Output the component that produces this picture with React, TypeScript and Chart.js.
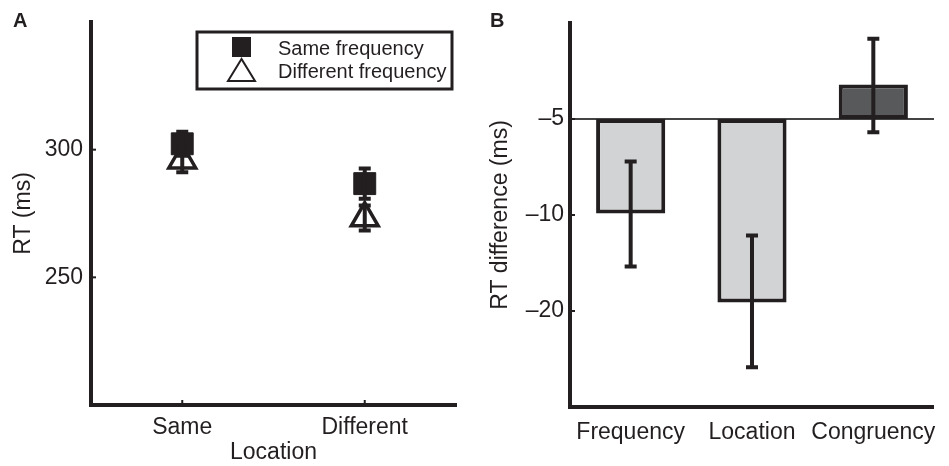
import React, { useEffect, useRef } from 'react';
import { Chart, registerables } from 'chart.js';

Chart.register(...registerables);

// ---------- Panel A data ----------
const LOCATIONS = ['Same', 'Different'];
const LOCATION_X = [1, 2];
const SAME_FREQ_RT = [302.3, 286.7];
const SAME_FREQ_ERR = [4.7, 5.9];
const DIFF_FREQ_RT = [295.9, 273.2];
const DIFF_FREQ_ERR = [4.7, 4.9];
const RT_TICKS = [250, 300];

// ---------- Panel B data ----------
const EFFECTS = ['Frequency', 'Location', 'Congruency'];
const EFFECT_BASELINE = -5;
const EFFECT_RT_DIFF = [-9.9, -18.8, -3.9];
const EFFECT_ERR_UPPER = [-6.8, -11.6, -2.8];
const EFFECT_ERR_LOWER = [-14.5, -30, -5.5];
const DIFF_TICKS = [-5, -10, -20];

const INK = '#231f20';
const LIGHT = '#d1d3d4';
const DARK = '#58595b';
const BAR_COLORS = [LIGHT, LIGHT, DARK];
const FAMILY = "'Liberation Sans', Arial, Helvetica, sans-serif";
const FONT = { family: FAMILY, size: 23 };

function drawErrorBar(ctx: CanvasRenderingContext2D, x: number, y1: number, y2: number) {
  ctx.beginPath();
  ctx.moveTo(x, y1);
  ctx.lineTo(x, y2);
  ctx.moveTo(x - 6, y1);
  ctx.lineTo(x + 6, y1);
  ctx.moveTo(x - 6, y2);
  ctx.lineTo(x + 6, y2);
  ctx.stroke();
}

const panelAPlugin = {
  id: 'panelA',
  afterDatasetsDraw(chart: any) {
    const { ctx, scales, chartArea } = chart;
    const x = scales.x;
    const y = scales.y;
    ctx.save();
    ctx.strokeStyle = INK;
    ctx.lineWidth = 4;
    const groups: [number[], number[]][] = [
      [DIFF_FREQ_RT, DIFF_FREQ_ERR],
      [SAME_FREQ_RT, SAME_FREQ_ERR],
    ];
    groups.forEach(([m, e]) => {
      LOCATION_X.forEach((lx, i) => {
        drawErrorBar(ctx, x.getPixelForValue(lx), y.getPixelForValue(m[i] + e[i]), y.getPixelForValue(m[i] - e[i]));
      });
    });
    // inward tick marks
    ctx.lineWidth = 2;
    RT_TICKS.forEach((t) => {
      const py = y.getPixelForValue(t);
      ctx.beginPath();
      ctx.moveTo(chartArea.left, py);
      ctx.lineTo(chartArea.left + 5, py);
      ctx.stroke();
    });
    LOCATION_X.forEach((lx) => {
      const px = x.getPixelForValue(lx);
      ctx.beginPath();
      ctx.moveTo(px, chartArea.bottom);
      ctx.lineTo(px, chartArea.bottom - 5);
      ctx.stroke();
    });
    ctx.restore();
  },
  afterDraw(chart: any) {
    const { ctx } = chart;
    ctx.save();
    // legend box
    ctx.fillStyle = '#fff';
    ctx.fillRect(197, 32, 255, 57);
    ctx.strokeStyle = INK;
    ctx.lineWidth = 3;
    ctx.strokeRect(197, 32, 255, 57);
    // square marker
    ctx.fillStyle = INK;
    ctx.fillRect(232, 37, 19, 20);
    // triangle marker
    ctx.beginPath();
    ctx.moveTo(241.5, 59);
    ctx.lineTo(228, 81);
    ctx.lineTo(255, 81);
    ctx.closePath();
    ctx.fillStyle = '#fff';
    ctx.fill();
    ctx.lineWidth = 2;
    ctx.stroke();
    // texts
    ctx.fillStyle = INK;
    ctx.font = `20px ${FAMILY}`;
    ctx.textAlign = 'left';
    ctx.textBaseline = 'alphabetic';
    ctx.fillText(chart.data.datasets[0].label, 278, 55);
    ctx.fillText(chart.data.datasets[1].label, 278, 78);
    ctx.restore();
  },
};

const panelBPlugin = {
  id: 'panelB',
  beforeDatasetsDraw(chart: any) {
    const { ctx, scales, chartArea } = chart;
    const py = scales.y.getPixelForValue(-EFFECT_BASELINE);
    ctx.save();
    ctx.strokeStyle = '#444';
    ctx.lineWidth = 2;
    ctx.beginPath();
    ctx.moveTo(chartArea.left, py);
    ctx.lineTo(chartArea.right, py);
    ctx.stroke();
    ctx.restore();
  },
  afterDatasetsDraw(chart: any) {
    const { ctx, scales, chartArea } = chart;
    const x = scales.x;
    const y = scales.y;
    ctx.save();
    ctx.strokeStyle = INK;
    ctx.lineWidth = 4;
    EFFECTS.forEach((_, i) => {
      drawErrorBar(ctx, x.getPixelForValue(i), y.getPixelForValue(-EFFECT_ERR_UPPER[i]), y.getPixelForValue(-EFFECT_ERR_LOWER[i]));
    });
    ctx.lineWidth = 2;
    DIFF_TICKS.forEach((t) => {
      const py = y.getPixelForValue(-t);
      ctx.beginPath();
      ctx.moveTo(chartArea.left, py);
      ctx.lineTo(chartArea.left + 5, py);
      ctx.stroke();
    });
    ctx.restore();
  },
};

function PanelA() {
  const ref = useRef<HTMLCanvasElement>(null);
  useEffect(() => {
    if (!ref.current) return;
    const chart = new Chart(ref.current, {
      type: 'scatter',
      data: {
        datasets: [
          {
            label: 'Same frequency',
            data: LOCATION_X.map((x, i) => ({ x, y: SAME_FREQ_RT[i] })),
            pointStyle: 'rect',
            pointRadius: 15.5,
            backgroundColor: INK,
            borderColor: INK,
            borderWidth: 1,
          },
          {
            label: 'Different frequency',
            data: LOCATION_X.map((x, i) => ({ x, y: DIFF_FREQ_RT[i] })),
            pointStyle: 'triangle',
            pointRadius: 15.5,
            backgroundColor: '#ffffff',
            borderColor: INK,
            borderWidth: 3.5,
          },
        ],
      },
      options: {
        responsive: false,
        animation: false,
        events: [],
        layout: { padding: { left: 0, top: 22, right: 15, bottom: 0 } },
        plugins: { legend: { display: false }, tooltip: { enabled: false } },
        scales: {
          x: {
            type: 'linear',
            min: 0.5,
            max: 2.5,
            afterBuildTicks: (s: any) => {
              s.ticks = LOCATION_X.map((v) => ({ value: v }));
            },
            afterFit: (s: any) => {
              s.height = 61;
            },
            ticks: {
              callback: (v: any) => LOCATIONS[LOCATION_X.indexOf(Number(v))],
              padding: 9,
              font: FONT,
              color: INK,
              maxRotation: 0,
              autoSkip: false,
            },
            grid: { display: false, drawTicks: false },
            border: { display: true, color: INK, width: 4 },
            title: { display: true, text: 'Location', font: FONT, color: INK, padding: { top: 0, bottom: 0 } },
          },
          y: {
            type: 'linear',
            min: 200,
            max: 350,
            afterBuildTicks: (s: any) => {
              s.ticks = RT_TICKS.map((v) => ({ value: v }));
            },
            afterFit: (s: any) => {
              s.width = 91;
            },
            ticks: { padding: 8, font: FONT, color: INK },
            grid: { display: false, drawTicks: false },
            border: { display: true, color: INK, width: 4 },
            title: { display: true, text: 'RT (ms)', font: FONT, color: INK, padding: { top: 10, bottom: 0 } },
          },
        },
      } as any,
      plugins: [panelAPlugin],
    });
    return () => chart.destroy();
  }, []);
  return <canvas ref={ref} width={475} height={466} style={{ position: 'absolute', left: 0, top: 0, width: 475, height: 466 }} />;
}

function PanelB() {
  const ref = useRef<HTMLCanvasElement>(null);
  useEffect(() => {
    if (!ref.current) return;
    const chart = new Chart(ref.current, {
      type: 'bar',
      data: {
        labels: EFFECTS,
        datasets: [
          {
            label: 'RT difference',
            data: EFFECT_RT_DIFF.map((v) => [-EFFECT_BASELINE, -v]),
            backgroundColor: BAR_COLORS,
            borderColor: INK,
            borderWidth: 4,
            borderSkipped: false,
            barPercentage: 0.57,
            categoryPercentage: 1,
          },
        ],
      },
      options: {
        responsive: false,
        animation: false,
        events: [],
        layout: { padding: { left: 0, top: 23, right: 10, bottom: 0 } },
        plugins: { legend: { display: false }, tooltip: { enabled: false } },
        scales: {
          x: {
            afterFit: (s: any) => {
              s.height = 59;
            },
            ticks: { padding: 12, font: FONT, color: INK, maxRotation: 0, autoSkip: false },
            grid: { display: false, drawTicks: false },
            border: { display: true, color: INK, width: 4 },
          },
          y: {
            type: 'logarithmic',
            reverse: true,
            min: 2.5,
            max: 40,
            afterBuildTicks: (s: any) => {
              s.ticks = DIFF_TICKS.map((v) => ({ value: -v }));
            },
            afterFit: (s: any) => {
              s.width = 95;
            },
            ticks: {
              callback: (v: any) => '\u2013' + v,
              padding: 6,
              font: FONT,
              color: INK,
            },
            grid: { display: false, drawTicks: false },
            border: { display: true, color: INK, width: 4 },
            title: { display: true, text: 'RT difference (ms)', font: FONT, color: INK, padding: { top: 12, bottom: 0 } },
          },
        },
      } as any,
      plugins: [panelBPlugin],
    });
    return () => chart.destroy();
  }, []);
  return <canvas ref={ref} width={474} height={466} style={{ position: 'absolute', left: 475, top: 0, width: 474, height: 466 }} />;
}

const letterStyle: React.CSSProperties = {
  position: 'absolute',
  top: 10,
  fontFamily: FAMILY,
  fontWeight: 'bold',
  fontSize: 20,
  lineHeight: '20px',
  color: INK,
};

export default function App() {
  return (
    <div style={{ position: 'absolute', left: 0, top: 0, width: 949, height: 466, background: '#fff', overflow: 'hidden' }}>
      <PanelA />
      <PanelB />
      <div style={{ ...letterStyle, left: 13 }}>A</div>
      <div style={{ ...letterStyle, left: 490 }}>B</div>
    </div>
  );
}
